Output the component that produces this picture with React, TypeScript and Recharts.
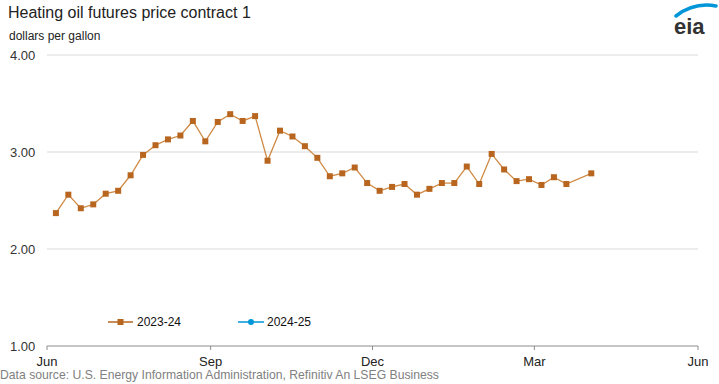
import React from "react";
import { LineChart, Line, XAxis, YAxis, ReferenceLine } from "recharts";

const FONT = "'Liberation Sans', Arial, sans-serif";

// weekly observation dates (one week in late March missing)
const dates = [
  "2023-06-06", "2023-06-13", "2023-06-20", "2023-06-27", "2023-07-04", "2023-07-11",
  "2023-07-18", "2023-07-25", "2023-08-01", "2023-08-08", "2023-08-15", "2023-08-22",
  "2023-08-29", "2023-09-05", "2023-09-12", "2023-09-19", "2023-09-26", "2023-10-03",
  "2023-10-10", "2023-10-17", "2023-10-24", "2023-10-31", "2023-11-07", "2023-11-14",
  "2023-11-21", "2023-11-28", "2023-12-05", "2023-12-12", "2023-12-19", "2023-12-26",
  "2024-01-02", "2024-01-09", "2024-01-16", "2024-01-23", "2024-01-30", "2024-02-06",
  "2024-02-13", "2024-02-20", "2024-02-27", "2024-03-05", "2024-03-12", "2024-03-19",
  "2024-04-02",
];

const prices2023 = [
  2.37, 2.56, 2.42, 2.46, 2.57, 2.6, 2.76, 2.97, 3.07, 3.13, 3.17, 3.32,
  3.11, 3.31, 3.39, 3.32, 3.37, 2.91, 3.22, 3.16, 3.06, 2.94, 2.75, 2.78,
  2.84, 2.68, 2.6, 2.64, 2.67, 2.56, 2.62, 2.68, 2.68, 2.85, 2.67, 2.98,
  2.82, 2.7, 2.72, 2.66, 2.74, 2.67, 2.78,
];

const prices2024: number[] = [];

const tickDates = ["2023-06-01", "2023-09-01", "2023-12-01", "2024-03-01", "2024-06-01"];
const tickLabels = ["Jun", "Sep", "Dec", "Mar", "Jun"];
const yTicks = [1, 2, 3, 4];

const START = Date.UTC(2023, 5, 1);
const dayOf = (s: string) => {
  const [y, m, d] = s.split("-").map(Number);
  return Math.round((Date.UTC(y, m - 1, d) - START) / 86400000);
};

const data2023 = dates.map((d, i) => ({ day: dayOf(d), value: prices2023[i] }));
const data2024 = prices2024.map((v, i) => ({ day: dayOf(dates[i]), value: v }));
const xTicks = tickDates.map(dayOf);

const BROWN = "#b8661f";
const BLUE = "#0096d7";

const SquareDot = (props: any) => {
  const { cx, cy } = props;
  if (cx == null || cy == null) return null;
  return <rect x={cx - 3} y={cy - 3} width={6} height={6} fill={BROWN} />;
};

const YTick = (props: any) => (
  <text x={10} y={props.y} dominantBaseline="central" fontSize={13} fontFamily={FONT} fill="#333">
    {Number(props.payload.value).toFixed(2)}
  </text>
);

const XTick = (props: any) => {
  const idx = xTicks.indexOf(props.payload.value);
  return (
    <text x={props.x} y={361} textAnchor="middle" dominantBaseline="central" fontSize={13} fontFamily={FONT} fill="#222">
      {tickLabels[idx]}
    </text>
  );
};

const App: React.FC = () => (
  <div style={{ position: "absolute", left: 0, top: 0, width: 719, height: 384, background: "#fff", fontFamily: FONT }}>
    <div style={{ position: "absolute", left: 8, top: 4, fontSize: 16, color: "#222" }}>
      Heating oil futures price contract 1
    </div>
    <div style={{ position: "absolute", left: 9, top: 29, fontSize: 12, color: "#222" }}>dollars per gallon</div>
    <svg style={{ position: "absolute", left: 668, top: 2 }} width={50} height={36}>
      <path d="M8 14 Q26 0 48 4" stroke="#0096d7" strokeWidth={3.5} fill="none" strokeLinecap="round" />
      <text x={6} y={32} fontSize={22} fontWeight="bold" fontFamily={FONT} fill="#333">eia</text>
    </svg>
    <LineChart width={719} height={384} margin={{ top: 55, right: 21, bottom: 37, left: 0 }} style={{ overflow: "visible" }}>
      <XAxis
        type="number"
        dataKey="day"
        domain={[xTicks[0], xTicks[xTicks.length - 1]]}
        ticks={xTicks}
        tick={<XTick />}
        tickSize={4}
        height={1}
        axisLine={{ stroke: "#8c8c8c" }}
        tickLine={{ stroke: "#8c8c8c" }}
        allowDuplicatedCategory={false}
      />
      <YAxis
        type="number"
        domain={[1, 4]}
        ticks={yTicks}
        width={47}
        axisLine={false}
        tickLine={false}
        tick={<YTick />}
      />
      {yTicks.slice(1).map((t) => (
        <ReferenceLine key={t} y={t} stroke="#d9d9d9" strokeWidth={1} />
      ))}
      <Line
        data={data2023}
        dataKey="value"
        name="2023-24"
        stroke="#cf8a45"
        strokeWidth={1.3}
        dot={<SquareDot />}
        activeDot={false}
        isAnimationActive={false}
      />
      <Line
        data={data2024}
        dataKey="value"
        name="2024-25"
        stroke={BLUE}
        strokeWidth={1.5}
        dot={false}
        isAnimationActive={false}
      />
    </LineChart>
    <svg style={{ position: "absolute", left: 108, top: 314 }} width={220} height={18}>
      <line x1={0} x2={25} y1={8} y2={8} stroke={BROWN} strokeWidth={1.5} />
      <rect x={9.5} y={5} width={6} height={6} fill={BROWN} />
      <text x={29} y={8} dominantBaseline="central" fontSize={12} fontFamily={FONT} fill="#111">2023-24</text>
      <line x1={130} x2={156} y1={8} y2={8} stroke={BLUE} strokeWidth={1.5} />
      <circle cx={143} cy={8} r={3} fill={BLUE} />
      <text x={159} y={8} dominantBaseline="central" fontSize={12} fontFamily={FONT} fill="#111">2024-25</text>
    </svg>
    <div style={{ position: "absolute", left: 0, top: 368, fontSize: 12.2, color: "#808080" }}>
      Data source: U.S. Energy Information Administration, Refinitiv An LSEG Business
    </div>
  </div>
);

export default App;
